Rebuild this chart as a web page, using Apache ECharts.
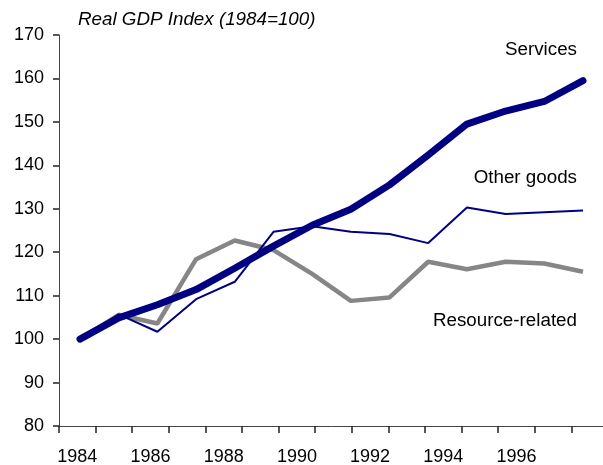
<!DOCTYPE html>
<html>
<head>
<meta charset="utf-8">
<script src="https://cdn.jsdelivr.net/npm/echarts@6/dist/echarts.min.js"></script>
<style>
  html, body { margin: 0; padding: 0; background: #fff; }
  #main { width: 603px; height: 465px; }
</style>
</head>
<body>
<div id="main"></div>
<script>
// tick labels on the visible axis (one slot per year, last one past the edge)
var axisYears = ['1984', '1985', '1986', '1987', '1988', '1989', '1990', '1991',
  '1992', '1993', '1994', '1995', '1996', '1997', '1998'];
// years of the plotted data
var years = ['1984', '1985', '1986', '1987', '1988', '1989', '1990', '1991',
  '1992', '1993', '1994', '1995', '1996', '1997'];

var services = [100, 104.9, 107.9, 111.4, 116.3, 121.4, 126.2, 129.9, 135.5, 142.4, 149.5, 152.5, 154.7, 159.5];
var otherGoods = [100, 105.7, 101.7, 109.2, 113.2, 124.7, 126, 124.7, 124.2, 122.1, 130.3, 128.8, 129.2, 129.6];
var resourceRelated = [100, 105.6, 103.6, 118.4, 122.7, 120.5, 115, 108.8, 109.6, 117.8, 116.1, 117.8, 117.4, 115.5];

var font = 'Liberation Sans, Arial, sans-serif';

var dom = document.getElementById('main');
var myChart = echarts.init(dom);

var option = {
  backgroundColor: '#fff',
  animation: false,
  title: {
    text: 'Real GDP Index (1984=100)',
    left: 73,
    top: 5,
    textStyle: {
      fontFamily: font,
      fontSize: 18.8,
      fontStyle: 'italic',
      fontWeight: 'normal',
      color: '#000'
    }
  },
  grid: [
    { left: 59, top: 35, width: 549, height: 391, outerBoundsMode: 'none', containLabel: false },
    { left: 80, top: 35, width: 503, height: 391, outerBoundsMode: 'none', containLabel: false }
  ],
  xAxis: [{
    type: 'category',
    gridIndex: 0,
    data: axisYears,
    boundaryGap: true,
    axisLine: { show: true, lineStyle: { color: '#444', width: 1 } },
    axisTick: { show: true, interval: 0, length: 7, lineStyle: { color: '#222', width: 1.5 } },
    axisLabel: {
      interval: 1,
      showMaxLabel: false,
      margin: 22,
      fontFamily: font,
      fontSize: 18,
      color: '#000'
    },
    splitLine: { show: false }
  }, {
    type: 'category',
    gridIndex: 1,
    data: years,
    boundaryGap: false,
    show: false
  }],
  yAxis: [{
    type: 'value',
    gridIndex: 0,
    min: 80,
    max: 170,
    interval: 10,
    axisLine: { show: true, lineStyle: { color: '#444', width: 1 } },
    axisTick: { show: true, length: 6, lineStyle: { color: '#222', width: 1.5 } },
    axisLabel: {
      margin: 15,
      fontFamily: font,
      fontSize: 18,
      color: '#000'
    },
    splitLine: { show: false }
  }, {
    type: 'value',
    gridIndex: 1,
    min: 80,
    max: 170,
    show: false,
    splitLine: { show: false }
  }],
  series: [{
    name: 'Resource-related',
    type: 'line',
    xAxisIndex: 1,
    yAxisIndex: 1,
    data: resourceRelated,
    symbol: 'none',
    lineStyle: { color: '#868686', width: 4.5 },
    itemStyle: { color: '#868686' },
    z: 2
  }, {
    name: 'Other goods',
    type: 'line',
    xAxisIndex: 1,
    yAxisIndex: 1,
    data: otherGoods,
    symbol: 'none',
    lineStyle: { color: '#000080', width: 2 },
    itemStyle: { color: '#000080' },
    z: 3
  }, {
    name: 'Services',
    type: 'line',
    xAxisIndex: 1,
    yAxisIndex: 1,
    data: services,
    symbol: 'none',
    lineStyle: { color: '#000080', width: 7, cap: 'round', join: 'round' },
    itemStyle: { color: '#000080' },
    z: 4
  }],
  graphic: [{
    type: 'text', right: 26, top: 40,
    style: { text: 'Services', font: '18.8px ' + font, fill: '#000' }
  }, {
    type: 'text', right: 26, top: 168,
    style: { text: 'Other goods', font: '18.8px ' + font, fill: '#000' }
  }, {
    type: 'text', right: 26, top: 311,
    style: { text: 'Resource-related', font: '18.8px ' + font, fill: '#000' }
  }]
};

myChart.setOption(option, true);
</script>
</body>
</html>
